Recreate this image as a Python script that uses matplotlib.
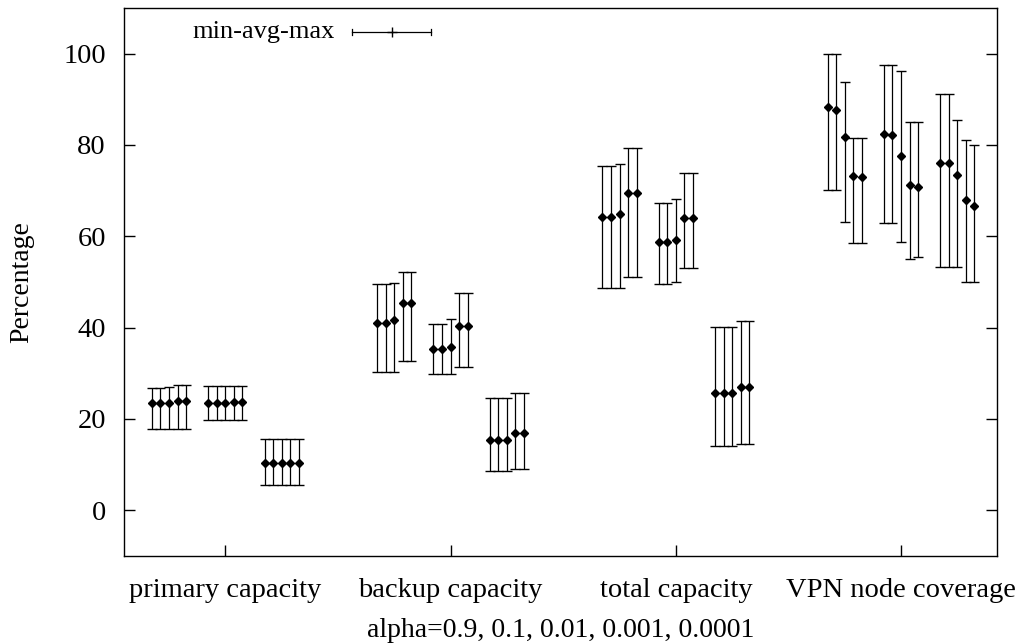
import matplotlib
matplotlib.use('Agg')
import matplotlib.pyplot as plt
import numpy as np

plt.rcParams['font.family'] = ['Liberation Serif', 'DejaVu Serif']

categories = ['primary capacity', 'backup capacity', 'total capacity', 'VPN node coverage']
alphas = ['0.9', '0.1', '0.01', '0.001', '0.0001']

# per category: 3 groups x 5 alpha values (avg, min, max)
primary_avg = [[23.4, 23.4, 23.4, 23.9, 23.9], [23.6, 23.6, 23.6, 23.8, 23.8], [10.3, 10.3, 10.3, 10.3, 10.3]]
primary_max = [[26.8, 26.8, 26.9, 27.4, 27.4], [27.3, 27.3, 27.2, 27.3, 27.3], [15.7, 15.7, 15.7, 15.7, 15.7]]
primary_min = [[17.8, 17.8, 17.8, 17.8, 17.8], [19.7, 19.7, 19.7, 19.7, 19.7], [5.5, 5.5, 5.5, 5.5, 5.5]]

backup_avg = [[41.1, 41.1, 41.6, 45.5, 45.5], [35.3, 35.3, 35.8, 40.3, 40.3], [15.5, 15.5, 15.5, 16.9, 16.9]]
backup_max = [[49.5, 49.5, 49.8, 52.2, 52.2], [40.9, 40.9, 41.9, 47.6, 47.6], [24.6, 24.6, 24.6, 25.7, 25.7]]
backup_min = [[30.4, 30.4, 30.4, 32.8, 32.8], [29.8, 29.8, 29.9, 31.4, 31.4], [8.7, 8.7, 8.7, 9.0, 9.0]]

total_avg = [[64.3, 64.3, 64.9, 69.4, 69.4], [58.8, 58.8, 59.3, 64.1, 64.1], [25.7, 25.7, 25.7, 27.1, 27.1]]
total_max = [[75.4, 75.4, 75.8, 79.3, 79.3], [67.2, 67.2, 68.2, 73.9, 73.9], [40.2, 40.2, 40.2, 41.5, 41.5]]
total_min = [[48.6, 48.6, 48.6, 51.2, 51.2], [49.5, 49.5, 50.0, 53.1, 53.1], [14.1, 14.1, 14.1, 14.5, 14.5]]

vpn_avg = [[88.3, 87.6, 81.7, 73.2, 73.1], [82.3, 82.1, 77.7, 71.3, 70.9], [76.0, 76.0, 73.4, 68.0, 66.6]]
vpn_max = [[100.0, 100.0, 93.9, 81.6, 81.6], [97.6, 97.6, 96.3, 85.0, 85.0], [91.2, 91.2, 85.5, 81.2, 80.1]]
vpn_min = [[70.1, 70.1, 63.1, 58.5, 58.5], [63.0, 63.0, 58.8, 55.0, 55.4], [53.3, 53.3, 53.3, 50.1, 50.1]]

avgs = [primary_avg, backup_avg, total_avg, vpn_avg]
maxs = [primary_max, backup_max, total_max, vpn_max]
mins = [primary_min, backup_min, total_min, vpn_min]

fig = plt.figure(figsize=(10.24, 6.44), dpi=100)
ax = fig.add_axes([124/1024, 1-556/644, 873/1024, 548/644])

group_off = [-0.25, 0.0, 0.25]
pt_off = np.array([-2, -1, 0, 1, 2]) * 0.038

for c in range(4):
    for g in range(3):
        x = c + 1 + group_off[g] + pt_off
        avg = np.array(avgs[c][g])
        lo = np.array(mins[c][g])
        hi = np.array(maxs[c][g])
        ax.errorbar(x, avg, yerr=[avg - lo, hi - avg], fmt='D', color='black',
                    ms=4.4, mew=1, elinewidth=0.9, capsize=3.5, capthick=0.9)

ax.set_xlim(0.55, 4.426)
ax.set_ylim(-10, 110)
ax.set_xticks([1, 2, 3, 4])
ax.set_xticklabels(categories)
ax.set_yticks([0, 20, 40, 60, 80, 100])
ax.tick_params(axis='both', direction='in', length=8, width=1, labelsize=20.5)
ax.tick_params(axis='y', right=True, pad=13)
ax.tick_params(axis='x', pad=15.5)
for s in ax.spines.values():
    s.set_linewidth(1)

ax.set_ylabel('Percentage', fontsize=20, labelpad=21)
ax.set_xlabel('alpha=' + ', '.join(alphas), fontsize=20, labelpad=11)

# legend in gnuplot style: label then sample
ax.text(0.2417, 0.956, 'min-avg-max', transform=ax.transAxes, ha='right', va='center', fontsize=19)
ax.plot([0.2612, 0.3517], [0.956, 0.956], transform=ax.transAxes, color='black', lw=0.9)
for xx in (0.2612, 0.3517):
    ax.plot([xx, xx], [0.95, 0.962], transform=ax.transAxes, color='black', lw=0.9)
ax.plot([0.307], [0.956], transform=ax.transAxes, marker='+', color='black', ms=7, mew=1)

fig.savefig('out.png', dpi=100)
